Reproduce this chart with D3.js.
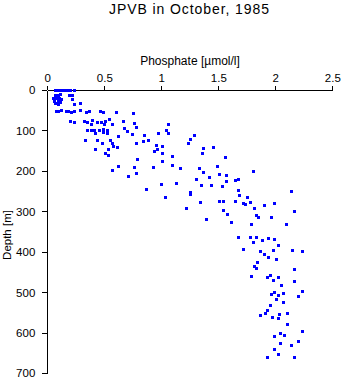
<!DOCTYPE html>
<html>
<head>
<meta charset="utf-8">
<script src="https://cdn.jsdelivr.net/npm/d3@7"></script>
<style>
  html, body { margin: 0; padding: 0; background: #fff; }
  svg { display: block; }
  text { font-family: "Liberation Sans", Arial, Helvetica, sans-serif; fill: #000; }
</style>
</head>
<body>
<svg id="chart" width="343" height="384"></svg>
<script>
const title = "JPVB in October, 1985";
const xLabel = "Phosphate [\u00b5mol/l]";
const yLabel = "Depth [m]";
const xTicks = [0, 0.5, 1, 1.5, 2, 2.5];
const yTicks = [0, 100, 200, 300, 400, 500, 600, 700];

const phosphate = [
  0.07,0.09,0.12,0.15,0.17,0.20,0.23,0.07,0.09,0.11,0.19,0.22,0.05,0.08,0.10,0.12,0.06,0.09,0.11,0.22,0.07,0.23,0.29,0.09,
  0.08,0.09,0.12,0.16,0.18,0.21,0.23,0.29,0.34,0.37,0.46,0.49,0.60,0.75,
  0.20,0.23,0.32,0.35,0.38,0.39,0.44,0.47,0.50,0.51,0.54,0.57,0.66,0.76,0.78,1.06,
  0.35,0.38,0.41,0.45,0.49,0.52,0.42,0.49,0.52,0.67,0.70,0.74,0.62,0.85,0.97,1.04,1.06,
  0.33,0.44,0.55,0.48,0.57,0.58,0.61,0.42,0.53,0.78,0.84,0.88,0.95,1.01,0.94,0.96,1.25,1.29,1.23,1.37,1.45,
  0.51,0.53,0.79,1.01,1.09,1.36,1.56,1.01,
  0.57,0.62,0.76,0.78,0.71,0.93,1.09,1.16,1.33,1.37,1.49,1.42,1.51,1.57,1.30,1.80,
  1.00,1.13,1.35,1.44,1.53,1.57,1.65,1.67,0.87,1.25,1.25,1.03,1.51,1.54,1.34,1.67,1.68,1.75,1.65,1.72,1.73,1.78,2.14,
  1.22,1.54,1.58,1.61,1.39,1.81,1.83,1.85,1.90,1.96,1.99,2.16,1.79,2.09,
  1.67,1.78,1.83,1.80,1.88,1.94,1.99,2.02,1.72,1.87,1.90,1.98,1.94,2.01,2.15,2.23,1.84,1.81,1.83,2.16,1.79,1.93,1.95,2.02,1.98,2.16,2.05,
  1.99,1.96,2.02,2.07,2.01,2.07,2.20,2.23,1.95,1.93,1.91,1.87,1.97,2.02,2.03,2.10,2.10,2.04,2.08,1.99,2.23,2.04,2.14,2.20,1.99,2.02,1.93,2.16
];
const depth = [
  0,0,0,0,0,0,0,12,12,10,12,12,20,20,20,22,27,27,30,22,32,35,32,35,
  52,52,49,52,52,54,52,49,54,52,52,54,54,57,
  77,79,77,79,84,74,79,79,84,77,72,84,77,82,91,84,
  99,99,99,99,96,99,106,104,106,94,101,109,114,111,106,99,106,
  124,124,124,131,131,138,141,146,146,131,126,124,136,138,151,146,121,111,131,143,141,
  156,161,170,156,163,156,165,175,
  198,188,190,205,212,190,185,193,193,203,188,215,207,210,220,200,
  232,230,235,235,237,225,222,220,245,252,257,264,274,274,277,247,259,264,274,279,282,277,249,
  291,296,306,326,319,291,309,314,284,314,279,299,331,331,
  363,363,363,375,371,366,368,383,393,398,405,395,412,417,395,398,425,435,440,442,459,462,457,462,469,472,482,
  499,504,506,501,516,524,509,496,531,543,551,556,561,563,553,551,578,600,605,608,595,625,630,620,640,652,659,659
];

const svg = d3.select("#chart");
const x = d3.scaleLinear().domain([0, 2.5]).range([47.3, 332.3]);
const y = d3.scaleLinear().domain([0, 700]).range([90, 373.3]);

svg.append("text")
  .attr("x", 189).attr("y", 13.5)
  .attr("text-anchor", "middle")
  .attr("textLength", 160)
  .attr("lengthAdjust", "spacing")
  .style("font-size", "14px")
  .text(title);

svg.append("text")
  .attr("x", 190).attr("y", 64.5)
  .attr("text-anchor", "middle")
  .style("font-size", "12px")
  .text(xLabel);

svg.append("text")
  .attr("transform", "translate(11,235) rotate(-90)")
  .attr("text-anchor", "middle")
  .style("font-size", "11.5px")
  .text(yLabel);

const xAxis = svg.append("g")
  .attr("transform", "translate(0,90)")
  .call(d3.axisTop(x).tickValues(xTicks).tickFormat(d3.format("")).tickSize(4).tickSizeOuter(0).tickPadding(4));
const yAxis = svg.append("g")
  .attr("transform", "translate(47.3,0)")
  .call(d3.axisLeft(y).tickValues(yTicks).tickSize(5).tickSizeOuter(0).tickPadding(7));

[xAxis, yAxis].forEach(g => {
  g.selectAll("path, line").attr("stroke", "#000").attr("stroke-width", 1).attr("shape-rendering", "crispEdges");
  g.selectAll("text").style("font-size", "11.5px").style("font-family", "'Liberation Sans', Arial, sans-serif").attr("fill", "#000");
});

const pts = phosphate.map((p, i) => ({ p, d: depth[i] }));
svg.append("g").selectAll("rect")
  .data(pts)
  .join("rect")
  .attr("x", d => Math.round(x(d.p)) - 1.5)
  .attr("y", d => Math.round(y(d.d)) - 1.5)
  .attr("width", 3).attr("height", 3)
  .attr("fill", "#0000ff")
  .attr("shape-rendering", "crispEdges");
</script>
</body>
</html>
